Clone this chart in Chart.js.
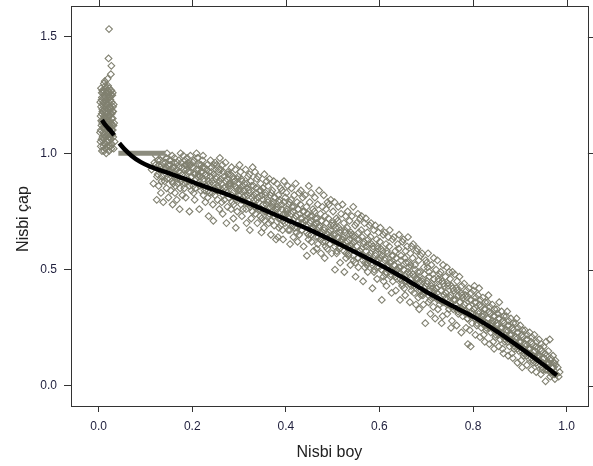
<!DOCTYPE html>
<html>
<head>
<meta charset="utf-8">
<script src="https://cdn.jsdelivr.net/npm/chart.js@4.4.1/dist/chart.umd.min.js"></script>
<style>
  body { margin: 0; background: #fff; }
  canvas { display: block; }
</style>
</head>
<body>
<canvas id="nisbi-chart" width="593" height="466"></canvas>
<script>
    // tick labels
    const boyTikleri = [0.0, 0.2, 0.4, 0.6, 0.8, 1.0];
    const capTikleri = [0.0, 0.5, 1.0, 1.5];

    // points near the stump (relative height close to 0)
    const kokNokta = [[0.004,1.05],[0.006,1.12],[0.008,1.18],[0.010,1.22],[0.012,1.08],[0.014,1.15],[0.016,1.26],[0.018,1.03],[0.020,1.19],[0.022,1.11],[0.024,1.24],[0.026,1.06],[0.028,1.17],[0.030,1.10],[0.032,1.21],[0.005,1.28],[0.007,1.01],[0.009,1.14],[0.011,1.30],[0.013,1.20],[0.015,1.04],[0.017,1.13],[0.019,1.27],[0.021,1.09],[0.023,1.16],[0.025,1.23],[0.027,1.02],[0.029,1.25],[0.031,1.07],[0.033,1.13],[0.004,1.16],[0.006,1.23],[0.008,1.07],[0.010,1.11],[0.012,1.25],[0.014,1.02],[0.016,1.17],[0.018,1.21],[0.020,1.06],[0.022,1.28],[0.024,1.14],[0.026,1.19],[0.028,1.04],[0.030,1.15],[0.003,1.09],[0.009,1.26],[0.013,1.12],[0.017,1.09],[0.021,1.22],[0.025,1.11],[0.029,1.08],[0.034,1.05],[0.005,1.20],[0.011,1.16],[0.015,1.21],[0.019,1.14],[0.023,1.03],[0.027,1.27],[0.031,1.18],[0.007,1.24],[0.016,1.00],[0.020,1.29],[0.026,1.13],[0.012,1.04],[0.018,1.17],[0.024,1.07],[0.008,1.27],[0.014,1.29],[0.022,1.01],[0.032,1.02],[0.010,1.03],[0.028,1.22],[0.006,1.06],[0.030,1.26],[0.022,1.534],[0.021,1.408],[0.027,1.376],[0.026,1.34],[0.013,1.31],[0.019,1.32]];
    const kokNokta2 = [[0.0045,1.10],[0.0065,1.17],[0.0085,1.21],[0.0105,1.06],[0.0125,1.14],[0.0145,1.24],[0.0165,1.10],[0.0185,1.19],[0.0205,1.13],[0.0225,1.20],[0.0245,1.09],[0.0265,1.25],[0.0285,1.12],[0.0305,1.20],[0.0055,1.14],[0.0075,1.19],[0.0095,1.09],[0.0115,1.24],[0.0135,1.16],[0.0155,1.12],[0.0175,1.23],[0.0195,1.08],[0.0215,1.16],[0.0235,1.26],[0.0255,1.17],[0.0275,1.10],[0.0035,1.22],[0.0065,1.26],[0.0095,1.18],[0.0125,1.19],[0.0155,1.28],[0.0185,1.11],[0.0215,1.25],[0.0245,1.20],[0.0275,1.15],[0.0315,1.12],[0.0045,1.03],[0.0105,1.27],[0.0135,1.07],[0.0175,1.05],[0.0225,1.07],[0.0255,1.03],[0.0295,1.18],[0.0115,1.01],[0.0165,1.15],[0.0205,1.24],[0.0235,1.12],[0.0265,1.08],[0.0075,1.13],[0.0145,1.18]];

    // main cloud, split by relative height
    const govde1 = [[0.113,0.93],[0.117,0.87],[0.119,0.96],[0.122,0.99],[0.124,0.80],[0.126,0.91],[0.128,0.86],[0.129,0.95],[0.131,0.97],[0.133,0.83],[0.135,0.90],[0.137,0.99],[0.138,0.79],[0.139,0.93],[0.141,0.88],[0.143,0.96],[0.145,0.85],[0.146,1.0],[0.148,0.92],[0.149,0.81],[0.144,0.94],[0.151,0.97],[0.152,0.89],[0.154,0.84],[0.156,0.93],[0.157,0.99],[0.159,0.87],[0.158,0.78],[0.153,0.95],[0.161,0.94],[0.162,0.98],[0.164,0.86],[0.165,0.91],[0.167,0.80],[0.168,0.96],[0.169,0.89],[0.163,0.83],[0.171,0.97],[0.172,0.92],[0.174,0.85],[0.175,1.0],[0.176,0.88],[0.178,0.94],[0.179,0.82],[0.173,0.76],[0.181,0.99],[0.182,0.90],[0.184,0.87],[0.185,0.95],[0.186,0.81],[0.188,0.93],[0.189,0.98],[0.183,0.85],[0.191,0.96],[0.192,0.88],[0.194,0.75],[0.195,0.92],[0.196,0.99],[0.198,0.84],[0.199,0.90],[0.193,0.95],[0.201,0.94],[0.202,0.86],[0.204,0.97],[0.205,0.80],[0.206,0.91],[0.208,0.89],[0.209,1.0],[0.203,0.83],[0.211,0.98],[0.212,0.87],[0.214,0.93],[0.215,0.76],[0.216,0.90],[0.218,0.84],[0.219,0.95],[0.213,0.91],[0.221,0.92],[0.222,0.97],[0.224,0.82],[0.225,0.88],[0.226,0.94],[0.228,0.79],[0.229,0.86],[0.223,0.99],[0.231,0.90],[0.232,0.95],[0.234,0.84],[0.235,0.73],[0.236,0.92],[0.238,0.87],[0.239,0.97],[0.233,0.81],[0.241,0.94],[0.242,0.88],[0.244,0.78],[0.245,0.71],[0.246,0.91],[0.248,0.85],[0.249,0.96],[0.243,0.83],[0.251,0.89],[0.252,0.95],[0.254,0.80],[0.255,0.86],[0.256,0.92],[0.258,0.76],[0.259,0.98],[0.253,0.84],[0.261,0.93],[0.262,0.87],[0.264,0.95],[0.265,0.74],[0.266,0.82],[0.268,0.90],[0.269,0.85],[0.263,0.79],[0.271,0.96],[0.272,0.84],[0.274,0.89],[0.275,0.77],[0.276,0.92],[0.278,0.81],[0.279,0.87],[0.273,0.70],[0.281,0.91],[0.282,0.86],[0.284,0.94],[0.285,0.79],[0.286,0.83],[0.288,0.72],[0.289,0.89],[0.283,0.76],[0.291,0.88],[0.292,0.93],[0.294,0.80],[0.295,0.85],[0.296,0.75],[0.298,0.90],[0.299,0.82],[0.293,0.68],[0.301,0.95],[0.302,0.84],[0.304,0.78],[0.305,0.89],[0.306,0.73],[0.308,0.86],[0.309,0.81],[0.303,0.92],[0.311,0.87],[0.312,0.82],[0.314,0.93],[0.315,0.76],[0.316,0.70],[0.318,0.85],[0.319,0.90],[0.313,0.79]];
    const govde2 = [[0.321,0.84],[0.322,0.91],[0.324,0.77],[0.325,0.88],[0.326,0.72],[0.328,0.81],[0.329,0.94],[0.323,0.67],[0.331,0.86],[0.332,0.80],[0.334,0.92],[0.335,0.74],[0.336,0.83],[0.338,0.89],[0.339,0.70],[0.333,0.77],[0.341,0.90],[0.342,0.79],[0.344,0.84],[0.345,0.73],[0.346,0.87],[0.348,0.66],[0.349,0.82],[0.343,0.76],[0.351,0.85],[0.352,0.78],[0.354,0.91],[0.355,0.71],[0.356,0.82],[0.358,0.75],[0.359,0.88],[0.353,0.68],[0.361,0.80],[0.362,0.86],[0.364,0.73],[0.365,0.89],[0.366,0.77],[0.368,0.65],[0.369,0.83],[0.363,0.70],[0.371,0.84],[0.372,0.77],[0.374,0.88],[0.375,0.69],[0.376,0.81],[0.378,0.74],[0.379,0.63],[0.373,0.79],[0.381,0.87],[0.382,0.76],[0.384,0.82],[0.385,0.68],[0.386,0.79],[0.388,0.72],[0.389,0.85],[0.383,0.64],[0.391,0.78],[0.392,0.84],[0.394,0.63],[0.395,0.74],[0.396,0.88],[0.398,0.70],[0.399,0.81],[0.393,0.67],[0.401,0.83],[0.402,0.76],[0.404,0.86],[0.405,0.67],[0.406,0.72],[0.408,0.79],[0.409,0.61],[0.403,0.74],[0.411,0.80],[0.412,0.85],[0.414,0.70],[0.415,0.75],[0.416,0.64],[0.418,0.82],[0.419,0.68],[0.413,0.77],[0.421,0.87],[0.422,0.73],[0.424,0.79],[0.425,0.62],[0.426,0.76],[0.428,0.83],[0.429,0.69],[0.423,0.66],[0.431,0.78],[0.432,0.84],[0.434,0.67],[0.435,0.72],[0.436,0.81],[0.438,0.60],[0.439,0.75],[0.433,0.70],[0.441,0.82],[0.442,0.71],[0.444,0.77],[0.445,0.56],[0.446,0.74],[0.448,0.65],[0.449,0.86],[0.443,0.69],[0.451,0.79],[0.452,0.73],[0.454,0.83],[0.455,0.62],[0.456,0.68],[0.458,0.76],[0.459,0.58],[0.453,0.71],[0.461,0.75],[0.462,0.81],[0.464,0.66],[0.465,0.70],[0.466,0.59],[0.468,0.78],[0.469,0.64],[0.463,0.72],[0.471,0.84],[0.472,0.69],[0.474,0.74],[0.475,0.57],[0.476,0.71],[0.478,0.77],[0.479,0.62],[0.473,0.66],[0.481,0.82],[0.482,0.68],[0.484,0.73],[0.485,0.60],[0.486,0.76],[0.488,0.65],[0.489,0.79],[0.483,0.55],[0.491,0.72],[0.492,0.78],[0.494,0.61],[0.495,0.67],[0.496,0.80],[0.498,0.57],[0.499,0.70],[0.493,0.64],[0.501,0.75],[0.502,0.69],[0.504,0.79],[0.505,0.50],[0.506,0.65],[0.508,0.72],[0.509,0.58],[0.503,0.62],[0.511,0.71],[0.512,0.77],[0.514,0.60],[0.515,0.66],[0.516,0.53],[0.518,0.74],[0.519,0.63],[0.513,0.68],[0.521,0.78],[0.522,0.64],[0.524,0.70],[0.525,0.49],[0.526,0.67],[0.528,0.73],[0.529,0.57],[0.523,0.61],[0.531,0.68],[0.532,0.75],[0.534,0.56],[0.535,0.63],[0.536,0.71],[0.538,0.52],[0.539,0.66],[0.533,0.60]];
    const govde3 = [[0.541,0.73],[0.542,0.65],[0.544,0.77],[0.545,0.54],[0.546,0.62],[0.548,0.69],[0.549,0.47],[0.543,0.59],[0.551,0.70],[0.552,0.63],[0.554,0.74],[0.555,0.51],[0.556,0.66],[0.558,0.58],[0.559,0.72],[0.553,0.55],[0.561,0.67],[0.562,0.73],[0.564,0.56],[0.565,0.45],[0.566,0.61],[0.568,0.70],[0.569,0.53],[0.563,0.64],[0.571,0.72],[0.572,0.60],[0.574,0.66],[0.575,0.49],[0.576,0.63],[0.578,0.55],[0.579,0.69],[0.573,0.52],[0.581,0.64],[0.582,0.70],[0.584,0.53],[0.585,0.42],[0.586,0.59],[0.588,0.67],[0.589,0.50],[0.583,0.61],[0.591,0.69],[0.592,0.57],[0.594,0.63],[0.595,0.46],[0.596,0.60],[0.598,0.66],[0.599,0.51],[0.593,0.54],[0.601,0.62],[0.602,0.68],[0.604,0.50],[0.605,0.37],[0.606,0.56],[0.608,0.65],[0.609,0.45],[0.603,0.59],[0.611,0.66],[0.612,0.55],[0.614,0.61],[0.615,0.43],[0.616,0.58],[0.618,0.51],[0.619,0.64],[0.613,0.48],[0.621,0.60],[0.622,0.67],[0.624,0.47],[0.625,0.53],[0.626,0.40],[0.628,0.63],[0.629,0.56],[0.623,0.50],[0.631,0.64],[0.632,0.52],[0.634,0.58],[0.635,0.41],[0.636,0.55],[0.638,0.46],[0.639,0.61],[0.633,0.49],[0.641,0.59],[0.642,0.65],[0.644,0.37],[0.645,0.51],[0.646,0.56],[0.648,0.44],[0.649,0.62],[0.643,0.48],[0.651,0.63],[0.652,0.50],[0.654,0.55],[0.655,0.39],[0.656,0.58],[0.658,0.45],[0.659,0.60],[0.653,0.42],[0.661,0.64],[0.662,0.53],[0.664,0.48],[0.665,0.36],[0.666,0.57],[0.668,0.43],[0.669,0.60],[0.663,0.51],[0.671,0.55],[0.672,0.61],[0.674,0.40],[0.675,0.47],[0.676,0.52],[0.678,0.35],[0.679,0.58],[0.673,0.44],[0.681,0.59],[0.682,0.49],[0.684,0.54],[0.685,0.33],[0.686,0.45],[0.688,0.56],[0.689,0.41],[0.683,0.38],[0.691,0.57],[0.692,0.46],[0.694,0.35],[0.695,0.51],[0.696,0.42],[0.698,0.27],[0.699,0.54],[0.693,0.39],[0.701,0.53],[0.702,0.45],[0.704,0.57],[0.705,0.36],[0.706,0.49],[0.708,0.41],[0.709,0.31],[0.703,0.51],[0.711,0.52],[0.712,0.44],[0.714,0.48],[0.715,0.34],[0.716,0.55],[0.718,0.39],[0.719,0.29],[0.713,0.42],[0.721,0.50],[0.722,0.42],[0.724,0.54],[0.725,0.33],[0.726,0.46],[0.728,0.37],[0.729,0.48],[0.723,0.40],[0.731,0.49],[0.732,0.41],[0.734,0.45],[0.735,0.30],[0.736,0.52],[0.738,0.36],[0.739,0.43],[0.733,0.27],[0.741,0.47],[0.742,0.40],[0.744,0.51],[0.745,0.31],[0.746,0.44],[0.748,0.35],[0.749,0.49],[0.743,0.38],[0.751,0.46],[0.752,0.39],[0.754,0.43],[0.755,0.28],[0.756,0.49],[0.758,0.33],[0.759,0.41],[0.753,0.25]];
    const govde4 = [[0.761,0.48],[0.762,0.37],[0.764,0.42],[0.765,0.26],[0.766,0.45],[0.768,0.32],[0.769,0.39],[0.763,0.35],[0.771,0.47],[0.772,0.36],[0.774,0.40],[0.775,0.23],[0.776,0.43],[0.778,0.30],[0.779,0.38],[0.773,0.33],[0.781,0.44],[0.782,0.35],[0.784,0.39],[0.785,0.25],[0.786,0.41],[0.788,0.29],[0.789,0.18],[0.783,0.32],[0.791,0.42],[0.792,0.34],[0.794,0.37],[0.795,0.17],[0.796,0.40],[0.798,0.27],[0.799,0.31],[0.793,0.24],[0.801,0.41],[0.802,0.33],[0.804,0.36],[0.805,0.22],[0.806,0.38],[0.808,0.26],[0.809,0.30],[0.803,0.43],[0.811,0.39],[0.812,0.31],[0.814,0.35],[0.815,0.21],[0.816,0.37],[0.818,0.25],[0.819,0.28],[0.813,0.42],[0.821,0.38],[0.822,0.30],[0.824,0.33],[0.825,0.19],[0.826,0.36],[0.828,0.24],[0.829,0.27],[0.823,0.22],[0.831,0.36],[0.832,0.29],[0.834,0.32],[0.835,0.18],[0.836,0.34],[0.838,0.23],[0.839,0.26],[0.833,0.39],[0.841,0.35],[0.842,0.27],[0.844,0.30],[0.845,0.16],[0.846,0.33],[0.848,0.21],[0.849,0.24],[0.843,0.19],[0.851,0.33],[0.852,0.26],[0.854,0.29],[0.855,0.17],[0.856,0.36],[0.858,0.20],[0.859,0.23],[0.853,0.31],[0.861,0.32],[0.862,0.25],[0.864,0.28],[0.865,0.14],[0.866,0.30],[0.868,0.19],[0.869,0.22],[0.863,0.16],[0.871,0.30],[0.872,0.23],[0.874,0.26],[0.875,0.13],[0.876,0.28],[0.878,0.17],[0.879,0.20],[0.873,0.32],[0.881,0.29],[0.882,0.22],[0.884,0.25],[0.885,0.12],[0.886,0.27],[0.888,0.16],[0.889,0.19],[0.883,0.14],[0.891,0.27],[0.892,0.20],[0.894,0.23],[0.895,0.10],[0.896,0.25],[0.898,0.15],[0.899,0.17],[0.893,0.29],[0.901,0.26],[0.902,0.19],[0.904,0.22],[0.905,0.08],[0.906,0.24],[0.908,0.13],[0.909,0.16],[0.903,0.11],[0.911,0.24],[0.912,0.17],[0.914,0.20],[0.915,0.09],[0.916,0.22],[0.918,0.12],[0.919,0.14],[0.921,0.23],[0.922,0.16],[0.924,0.19],[0.925,0.07],[0.926,0.21],[0.928,0.11],[0.929,0.13],[0.931,0.22],[0.932,0.15],[0.934,0.17],[0.935,0.06],[0.936,0.19],[0.938,0.09],[0.939,0.12],[0.941,0.20],[0.942,0.13],[0.944,0.16],[0.945,0.05],[0.946,0.18],[0.948,0.08],[0.949,0.10],[0.951,0.17],[0.952,0.12],[0.954,0.14],[0.955,0.02],[0.956,0.19],[0.958,0.07],[0.959,0.09],[0.961,0.15],[0.962,0.10],[0.964,0.20],[0.965,0.04],[0.966,0.12],[0.968,0.06],[0.969,0.08],[0.971,0.13],[0.972,0.08],[0.974,0.10],[0.975,0.03],[0.976,0.11],[0.978,0.05],[0.981,0.08],[0.983,0.04],[0.985,0.06]];
    // denser core of the cloud, close to the curve
    const govde5 = [[0.1215,0.95],[0.1245,0.90],[0.1265,0.97],[0.1285,0.93],[0.1315,0.94],[0.1345,0.88],[0.1365,0.96],[0.1385,0.91],[0.1415,0.93],[0.1445,0.98],[0.1465,0.89],[0.1485,0.95],[0.1515,0.92],[0.1545,0.97],[0.1565,0.88],[0.1585,0.94],[0.1615,0.96],[0.1645,0.90],[0.1665,0.93],[0.1685,0.87],[0.1715,0.94],[0.1745,0.89],[0.1765,0.96],[0.1785,0.91],[0.1815,0.93],[0.1845,0.97],[0.1865,0.88],[0.1885,0.95],[0.1915,0.92],[0.1945,0.86],[0.1965,0.95],[0.1985,0.90],[0.2015,0.96],[0.2045,0.91],[0.2065,0.85],[0.2085,0.93],[0.2115,0.90],[0.2145,0.95],[0.2165,0.86],[0.2185,0.92],[0.2215,0.94],[0.2245,0.89],[0.2265,0.84],[0.2285,0.91],[0.2315,0.93],[0.2345,0.88],[0.2365,0.83],[0.2385,0.90],[0.2415,0.92],[0.2445,0.87],[0.2465,0.95],[0.2485,0.82],[0.2515,0.90],[0.2545,0.85],[0.2565,0.93],[0.2585,0.88],[0.2615,0.89],[0.2645,0.84],[0.2665,0.92],[0.2685,0.80],[0.2715,0.88],[0.2745,0.83],[0.2765,0.91],[0.2785,0.86],[0.2815,0.87],[0.2845,0.82],[0.2865,0.90],[0.2885,0.78],[0.2915,0.86],[0.2945,0.81],[0.2965,0.89],[0.2985,0.84],[0.3015,0.85],[0.3045,0.80],[0.3065,0.88],[0.3085,0.76],[0.3115,0.84],[0.3145,0.79],[0.3165,0.87],[0.3185,0.82],[0.3215,0.83],[0.3245,0.78],[0.3265,0.86],[0.3285,0.75],[0.3315,0.82],[0.3345,0.77],[0.3365,0.85],[0.3385,0.80],[0.3415,0.81],[0.3445,0.76],[0.3465,0.84],[0.3485,0.72],[0.3515,0.80],[0.3545,0.75],[0.3565,0.83],[0.3585,0.78],[0.3615,0.79],[0.3645,0.74],[0.3665,0.82],[0.3685,0.71],[0.3715,0.78],[0.3745,0.73],[0.3765,0.81],[0.3785,0.76],[0.3815,0.77],[0.3845,0.72],[0.3865,0.80],[0.3885,0.69],[0.3915,0.76],[0.3945,0.71],[0.3965,0.79],[0.3985,0.74],[0.4015,0.75],[0.4045,0.70],[0.4065,0.78],[0.4085,0.67],[0.4115,0.74],[0.4145,0.69],[0.4165,0.77],[0.4185,0.72],[0.4215,0.73],[0.4245,0.68],[0.4265,0.76],[0.4285,0.65],[0.4315,0.72],[0.4345,0.67],[0.4365,0.75],[0.4385,0.70],[0.4415,0.71],[0.4445,0.66],[0.4465,0.74],[0.4485,0.63],[0.4515,0.70],[0.4545,0.65],[0.4565,0.73],[0.4585,0.68],[0.4615,0.69],[0.4645,0.64],[0.4665,0.72],[0.4685,0.61],[0.4715,0.68],[0.4745,0.63],[0.4765,0.71],[0.4785,0.66],[0.4815,0.67],[0.4845,0.62],[0.4865,0.70],[0.4885,0.59],[0.4915,0.66],[0.4945,0.61],[0.4965,0.69],[0.4985,0.64],[0.5015,0.65],[0.5045,0.60],[0.5065,0.68],[0.5085,0.57],[0.5115,0.64],[0.5145,0.59],[0.5165,0.67],[0.5185,0.62],[0.5215,0.63],[0.5245,0.58],[0.5265,0.66],[0.5285,0.55],[0.5315,0.62],[0.5345,0.57],[0.5365,0.65],[0.5385,0.60],[0.5415,0.61],[0.5445,0.56],[0.5465,0.64],[0.5485,0.53],[0.5515,0.60],[0.5545,0.55],[0.5565,0.63],[0.5585,0.58],[0.5615,0.59],[0.5645,0.54],[0.5665,0.62],[0.5685,0.51],[0.5715,0.58],[0.5745,0.53],[0.5765,0.61],[0.5785,0.56],[0.5815,0.57],[0.5845,0.52],[0.5865,0.60],[0.5885,0.49],[0.5915,0.56],[0.5945,0.51],[0.5965,0.59],[0.5985,0.54],[0.6015,0.55],[0.6045,0.50],[0.6065,0.58],[0.6085,0.47],[0.6115,0.54],[0.6145,0.49],[0.6165,0.57],[0.6185,0.52],[0.6215,0.53],[0.6245,0.48],[0.6265,0.56],[0.6285,0.45],[0.6315,0.52],[0.6345,0.47],[0.6365,0.55],[0.6385,0.50],[0.6415,0.51],[0.6445,0.46],[0.6465,0.54],[0.6485,0.43],[0.6515,0.50],[0.6545,0.45],[0.6565,0.53],[0.6585,0.48],[0.6615,0.49],[0.6645,0.44],[0.6665,0.52],[0.6685,0.41],[0.6715,0.48],[0.6745,0.43],[0.6765,0.50],[0.6785,0.46],[0.6815,0.46],[0.6845,0.41],[0.6865,0.49],[0.6885,0.39],[0.6915,0.45],[0.6945,0.40],[0.6965,0.48],[0.6985,0.43],[0.7015,0.44],[0.7045,0.39],[0.7065,0.47],[0.7085,0.37],[0.7115,0.43],[0.7145,0.38],[0.7165,0.46],[0.7185,0.41],[0.7215,0.42],[0.7245,0.37],[0.7265,0.45],[0.7285,0.35],[0.7315,0.41],[0.7345,0.36],[0.7365,0.44],[0.7385,0.39],[0.7415,0.40],[0.7445,0.35],[0.7465,0.43],[0.7485,0.33],[0.7515,0.38],[0.7545,0.34],[0.7565,0.42],[0.7585,0.37],[0.7615,0.37],[0.7645,0.33],[0.7665,0.41],[0.7685,0.31],[0.7715,0.36],[0.7745,0.32],[0.7765,0.39],[0.7785,0.34],[0.7815,0.35],[0.7845,0.31],[0.7865,0.38],[0.7885,0.29],[0.7915,0.34],[0.7945,0.30],[0.7965,0.37],[0.7985,0.32],[0.8015,0.33],[0.8045,0.29],[0.8065,0.36],[0.8085,0.27],[0.8115,0.32],[0.8145,0.28],[0.8165,0.34],[0.8185,0.30],[0.8215,0.31],[0.8245,0.26],[0.8265,0.33],[0.8285,0.25],[0.8315,0.29],[0.8345,0.25],[0.8365,0.31],[0.8385,0.27],[0.8415,0.28],[0.8445,0.24],[0.8465,0.30],[0.8485,0.22],[0.8515,0.27],[0.8545,0.22],[0.8565,0.29],[0.8585,0.25],[0.8615,0.25],[0.8645,0.21],[0.8665,0.27],[0.8685,0.20],[0.8715,0.24],[0.8745,0.19],[0.8765,0.26],[0.8785,0.22],[0.8815,0.22],[0.8845,0.18],[0.8865,0.24],[0.8885,0.17],[0.8915,0.21],[0.8945,0.16],[0.8965,0.23],[0.8985,0.19],[0.9015,0.19],[0.9045,0.15],[0.9065,0.21],[0.9085,0.14],[0.9115,0.18],[0.9145,0.13],[0.9165,0.20],[0.9185,0.16],[0.9215,0.16],[0.9245,0.12],[0.9265,0.18],[0.9285,0.10],[0.9315,0.15],[0.9345,0.10],[0.9365,0.16],[0.9385,0.13],[0.9415,0.13],[0.9445,0.09],[0.9465,0.15],[0.9485,0.07],[0.9515,0.12],[0.9545,0.07],[0.9565,0.13],[0.9585,0.10],[0.9615,0.10],[0.9645,0.06],[0.9665,0.11],[0.9685,0.05],[0.9715,0.08],[0.9745,0.05],[0.9765,0.09]];

    // flat run of points at 1.0
    const bantNokta = [[0.042,1.0],[0.143,1.0]];

    // fitted taper curve (two pieces)
    const egri1 = [[0.007,1.143],[0.015,1.12],[0.025,1.098],[0.033,1.078]];
    const egri2 = [[0.044,1.043],[0.055,1.018],[0.07,0.99],[0.09,0.962],[0.11,0.943],[0.145,0.918],[0.18,0.893],[0.217,0.864],[0.26,0.834],[0.3,0.803],[0.35,0.76],[0.4,0.716],[0.45,0.672],[0.5,0.624],[0.55,0.574],[0.6,0.522],[0.65,0.466],[0.7,0.405],[0.75,0.35],[0.8,0.298],[0.85,0.236],[0.9,0.166],[0.95,0.092],[0.979,0.046]];

    const griRenk = 'rgb(128,128,112)';
    const yaziFont = 'Liberation Sans, Arial, sans-serif';

    function to_xy(arr) {
        return arr.map(p => ({x: p[0], y: p[1]}));
    }

    let tumNokta = kokNokta.concat(kokNokta2, govde1, govde2, govde3, govde4, govde5);

    // box + mirrored ticks on top/right, and y title
    const kutuPlugin = {
        id: 'kutu',
        afterDraw(chart) {
            const ctx = chart.ctx;
            const a = chart.chartArea;
            const xs = chart.scales.x, ys = chart.scales.y;
            ctx.save();
            ctx.strokeStyle = '#333';
            ctx.lineWidth = 1;
            ctx.strokeRect(Math.round(a.left) + 0.5, Math.round(a.top) + 0.5, Math.round(a.right - a.left), Math.round(a.bottom - a.top));
            ctx.beginPath();
            boyTikleri.forEach(v => {
                let px = Math.round(xs.getPixelForValue(v)) + 0.5;
                ctx.moveTo(px, a.top);
                ctx.lineTo(px, a.top - 6);
            });
            capTikleri.forEach(v => {
                let py = Math.round(ys.getPixelForValue(v)) + 0.5;
                ctx.moveTo(a.right, py);
                ctx.lineTo(a.right + 7, py);
            });
            ctx.stroke();

            ctx.fillStyle = '#222';
            ctx.font = '16px ' + yaziFont;
            ctx.textAlign = 'center';
            ctx.textBaseline = 'alphabetic';
            ctx.translate(28, (a.top + a.bottom) / 2 + 13);
            ctx.rotate(-Math.PI / 2);
            ctx.fillText('Nisbi çap', 0, 0);
            ctx.restore();
        }
    };

    new Chart(document.getElementById('nisbi-chart'), {
        type: 'scatter',
        data: {
            datasets: [{
                    data: to_xy(egri1),
                    showLine: true,
                    borderColor: '#000',
                    borderWidth: 4.5,
                    pointRadius: 0,
                    cubicInterpolationMode: 'monotone',
                    order: 1
                }, {
                    data: to_xy(egri2),
                    showLine: true,
                    borderColor: '#000',
                    borderWidth: 4.5,
                    pointRadius: 0,
                    cubicInterpolationMode: 'monotone',
                    order: 2
                }, {
                    data: to_xy(bantNokta),
                    showLine: true,
                    borderColor: 'rgb(140,140,126)',
                    borderWidth: 5,
                    pointRadius: 0,
                    order: 3
                }, {
                    data: to_xy(tumNokta),
                    pointStyle: 'rectRot',
                    pointRadius: 3.4,
                    pointBorderWidth: 1.1,
                    pointBorderColor: griRenk,
                    pointBackgroundColor: 'rgba(0,0,0,0)',
                    order: 4
                }]
        },
        options: {
            responsive: false,
            animation: false,
            layout: {
                padding: {top: 6, right: 5, left: 0, bottom: 0}
            },
            plugins: {
                legend: {display: false},
                tooltip: {enabled: false}
            },
            scales: {
                x: {
                    type: 'linear',
                    min: -0.0592,
                    max: 1.0455,
                    afterBuildTicks: (axis) => { axis.ticks = boyTikleri.map(v => ({value: v})); },
                    afterFit: (axis) => { axis.height = 60; axis.paddingLeft = 0; axis.paddingRight = 0; },
                    ticks: {
                        padding: 7,
                        color: '#1e1e3c',
                        font: {family: yaziFont, size: 12},
                        callback: (v) => Number(v).toFixed(1)
                    },
                    grid: {
                        drawOnChartArea: false,
                        tickLength: 6,
                        color: '#333'
                    },
                    border: {display: true, color: '#333', width: 1},
                    title: {
                        display: true,
                        text: 'Nisbi boy',
                        color: '#222',
                        font: {family: yaziFont, size: 16},
                        padding: {top: 0, bottom: 4}
                    }
                },
                y: {
                    type: 'linear',
                    min: -0.086,
                    max: 1.6332,
                    afterBuildTicks: (axis) => { axis.ticks = capTikleri.map(v => ({value: v})); },
                    afterFit: (axis) => { axis.width = 71; axis.paddingTop = 0; axis.paddingBottom = 0; },
                    ticks: {
                        padding: 7,
                        color: '#1e1e3c',
                        font: {family: yaziFont, size: 12},
                        callback: (v) => Number(v).toFixed(1)
                    },
                    grid: {
                        drawOnChartArea: false,
                        tickLength: 7,
                        color: '#333'
                    },
                    border: {display: true, color: '#333', width: 1}
                }
            }
        },
        plugins: [kutuPlugin]
    });
</script>
</body>
</html>
